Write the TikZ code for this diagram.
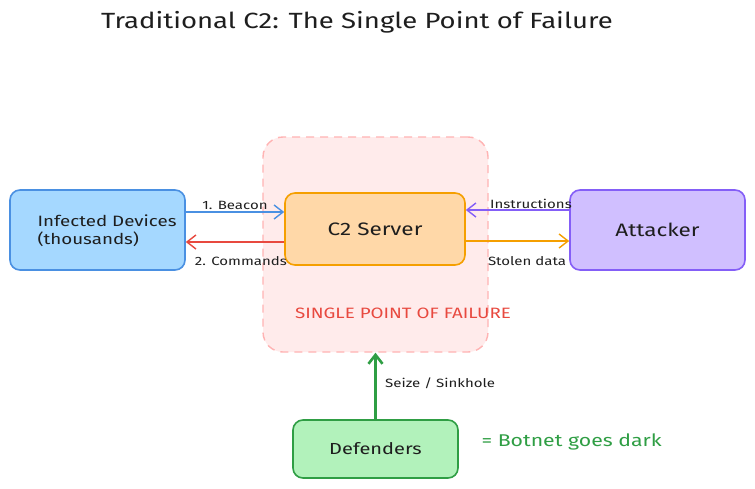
\documentclass[tikz,border=0pt]{standalone}
\usepackage{fontspec}
\setmainfont[FakeStretch=1.25]{Fira Sans}
\usetikzlibrary{arrows.meta}
\definecolor{bluefill}{HTML}{A5D8FF}
\definecolor{blueline}{HTML}{4A90E2}
\definecolor{orgfill}{HTML}{FFD8A8}
\definecolor{orgline}{HTML}{F59F00}
\definecolor{purfill}{HTML}{D0BFFF}
\definecolor{purline}{HTML}{845EF7}
\definecolor{grnfill}{HTML}{B2F2BB}
\definecolor{grnline}{HTML}{2F9E44}
\definecolor{redline}{HTML}{E8493F}
\definecolor{pinkfill}{HTML}{FFEBEB}
\definecolor{pinkline}{HTML}{FFB3B3}
\definecolor{ink}{HTML}{1E1E1E}
\tikzset{
  box/.style={draw, line width=1.6pt, rounded corners=10pt, inner sep=0pt, text=ink, font=\fontsize{15}{18}\selectfont},
  conn/.style={line width=1.4pt, -{Straight Barb[length=9pt,width=14pt]}},
  lbl/.style={font=\fontsize{12}{14}\selectfont, text=ink, inner sep=1pt}
}
\begin{document}
\begin{tikzpicture}[x=1pt,y=-1pt]
\useasboundingbox[fill=white] (0,0) rectangle (755,488);
\node[font=\fontsize{22}{26}\selectfont, text=ink] (title) at (357,22) {Traditional C2: The Single Point of Failure};
\node[draw=pinkline, fill=pinkfill, dashed, line width=1.4pt, rounded corners=20pt, minimum width=225pt, minimum height=215pt, dash pattern=on 8pt off 6pt] (spof) at (375.5,244.5) {};
\node[box, draw=blueline, fill=bluefill, minimum width=175pt, minimum height=80pt] (inf) at (97.5,230) {};
\node[text=ink, font=\fontsize{15}{18}\selectfont, align=left, anchor=west] (inft) at (34,231) {Infected Devices\\(thousands)};
\node[box, draw=orgline, fill=orgfill, minimum width=180pt, minimum height=72pt, font=\fontsize{18}{21}\selectfont] (c2) at (375,229) {C2 Server};
\node[box, draw=purline, fill=purfill, minimum width=175pt, minimum height=80pt, font=\fontsize{18}{21}\selectfont] (att) at (657.5,230) {Attacker};
\node[box, draw=grnline, fill=grnfill, minimum width=165pt, minimum height=58pt, font=\fontsize{16}{19}\selectfont] (def) at (375.5,449) {Defenders};
\coordinate (b1) at (inf.east |- 0,212);
\coordinate (b2) at (c2.west |- 0,212);
\draw[conn, blueline] (b1) -- (b2) node[lbl, midway, above=1pt] (lb) {1. Beacon};
\coordinate (r1) at (c2.west |- 0,242);
\coordinate (r2) at (inf.east |- 0,242);
\draw[conn, redline] (r1) -- (r2);
\node[lbl, anchor=east] (lc) at (288,261) {2. Commands};
\coordinate (p1) at (att.west |- 0,210);
\coordinate (p2) at (c2.east |- 0,210);
\draw[conn, purline] (p1) -- (p2);
\node[lbl] (li) at (531,204) {Instructions};
\coordinate (o1) at (c2.east |- 0,241);
\coordinate (o2) at (att.west |- 0,241);
\draw[conn, orgline] (o1) -- (o2);
\node[lbl] (ls) at (527,261) {Stolen data};
\node[text=redline, font=\fontsize{15}{18}\selectfont] (sp) at (403,313) {SINGLE POINT OF FAILURE};
\draw[conn, grnline, line width=2.6pt] (def.north) -- (spof.south);
\node[lbl, anchor=west] (lz) at (384,383) {Seize / Sinkhole};
\node[text=grnline, font=\fontsize{17}{20}\selectfont, anchor=west] (dark) at (478,442) {= Botnet goes dark};
\end{tikzpicture}
\end{document}
